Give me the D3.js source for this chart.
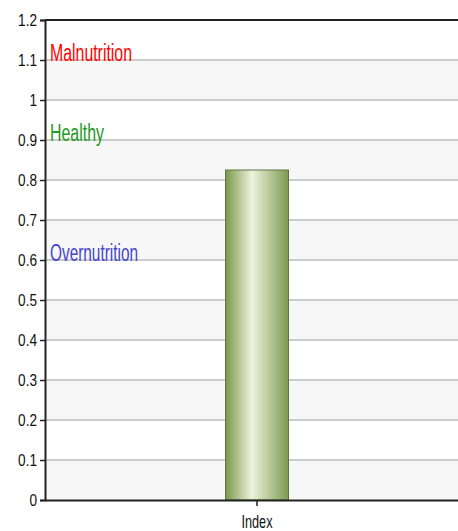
<!DOCTYPE html>
<html>
<head>
<meta charset="utf-8">
<script src="https://cdn.jsdelivr.net/npm/d3@7"></script>
<style>
  body { margin: 0; background: #fff; }
  svg text { font-family: "Liberation Sans", Arial, sans-serif; }
</style>
</head>
<body>
<svg id="chart" width="458" height="531"></svg>
<script>
// data
var categories = ["Index"];
var values = [0.825];
var yTicks = [0, 0.1, 0.2, 0.3, 0.4, 0.5, 0.6, 0.7, 0.8, 0.9, 1, 1.1, 1.2];
var zoneLabels = ["Malnutrition", "Healthy", "Overnutrition"];
var zoneValues = [1.1, 0.9, 0.6];
var zoneColors = ["#ff0000", "#229922", "#4444cc"];

var svg = d3.select("#chart");
var margin = {left: 45, top: 20, right: 0, bottom: 31};
var width = 458 - margin.left - margin.right;
var height = 531 - margin.top - margin.bottom;

var g = svg.append("g").attr("transform", `translate(${margin.left},${margin.top})`);

var yScale = d3.scaleLinear().domain([0, 1.2]).range([height, 0]);
// plot area runs a little past the right edge of the window
var xScale = d3.scaleBand().domain(categories).range([0, 424]).paddingInner(0.85).paddingOuter(0.43);

// alternating bands
var bands = yTicks.slice(0, -1);
g.selectAll("rect.band").data(bands).enter()
    .append("rect")
    .attr("class", "band")
    .attr("x", 0)
    .attr("width", width)
    .attr("y", (d, i) => yScale(yTicks[i + 1]))
    .attr("height", (d, i) => yScale(d) - yScale(yTicks[i + 1]))
    .attr("fill", (d, i) => i % 2 === 0 ? "#f7f7f7" : "#ffffff");

// gridlines
g.selectAll("line.grid").data(yTicks.slice(1, -1)).enter()
    .append("line")
    .attr("class", "grid")
    .attr("x1", 0).attr("x2", width)
    .attr("y1", d => yScale(d)).attr("y2", d => yScale(d))
    .attr("stroke", "#cccccc")
    .attr("stroke-width", 2);

// gradient for bar
var defs = svg.append("defs");
var grad = defs.append("linearGradient").attr("id", "barGrad")
    .attr("x1", "0%").attr("x2", "100%").attr("y1", "0%").attr("y2", "0%");
grad.append("stop").attr("offset", "0%").attr("stop-color", "#7a984c");
grad.append("stop").attr("offset", "42%").attr("stop-color", "#eef3dc");
grad.append("stop").attr("offset", "100%").attr("stop-color", "#7d9a50");

g.selectAll("rect.bar").data(values).enter()
    .append("rect")
    .attr("class", "bar")
    .attr("x", (d, i) => xScale(categories[i]))
    .attr("width", xScale.bandwidth())
    .attr("y", d => yScale(d))
    .attr("height", d => height - yScale(d))
    .attr("fill", "url(#barGrad)")
    .attr("stroke", "#5e7440")
    .attr("stroke-width", 1);

// zone labels (tall, condensed text)
g.selectAll("text.zone").data(zoneLabels).enter()
    .append("text")
    .attr("class", "zone")
    .attr("x", 5)
    .attr("y", (d, i) => yScale(zoneValues[i]) + 1)
    .attr("fill", (d, i) => zoneColors[i])
    .style("font-size", "23px")
    .attr("textLength", (d, i) => [82, 54, 88][i])
    .attr("lengthAdjust", "spacingAndGlyphs")
    .text(d => d);

// y axis
var yAxis = d3.axisLeft(yScale).tickValues(yTicks).tickSize(5).tickPadding(3).tickFormat(d3.format("~g"));
var yG = g.append("g").call(yAxis);
yG.select(".domain").attr("stroke", "#222").attr("stroke-width", 2);
yG.selectAll(".tick line").attr("stroke", "#222").attr("stroke-width", 1.5);
yG.selectAll(".tick text").style("font-size", "16px").attr("fill", "#111")
    .attr("lengthAdjust", "spacingAndGlyphs")
    .attr("textLength", function() { return this.getComputedTextLength() * 0.85; });

// x axis
var xAxis = d3.axisBottom(xScale).tickSize(6).tickSizeOuter(0).tickPadding(9);
var xG = g.append("g").attr("transform", `translate(0,${height})`).call(xAxis);
xG.select(".domain").attr("stroke", "#222").attr("stroke-width", 2);
xG.selectAll(".tick line").attr("stroke", "#222").attr("stroke-width", 1.5);
xG.selectAll(".tick text").style("font-size", "19px").attr("fill", "#111")
    .attr("textLength", 31)
    .attr("lengthAdjust", "spacingAndGlyphs");

// top border
g.append("line")
    .attr("x1", 0).attr("x2", width)
    .attr("y1", 0).attr("y2", 0)
    .attr("stroke", "#222").attr("stroke-width", 2);
</script>
</body>
</html>
